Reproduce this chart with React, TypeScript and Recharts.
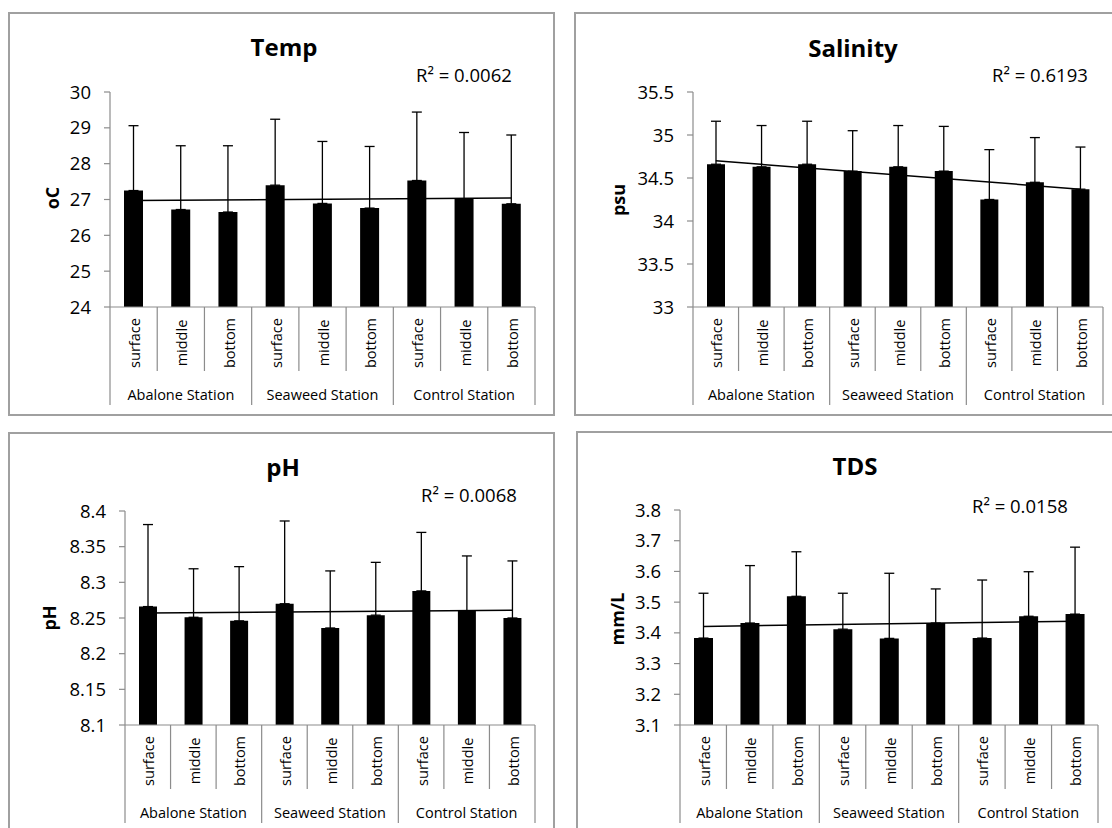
import React from 'react';
import { ComposedChart, Bar, ErrorBar, Line, XAxis, YAxis } from 'recharts';

const stations = ['Abalone Station', 'Seaweed Station', 'Control Station'];
const depths = ['surface', 'middle', 'bottom'];

const tempMean = [27.25, 26.72, 26.65, 27.4, 26.89, 26.76, 27.53, 27.02, 26.88];
const tempSd = [1.81, 1.78, 1.85, 1.84, 1.73, 1.72, 1.91, 1.85, 1.92];
const tempTrend = [26.97, 27.04];
const tempTicks = [24, 25, 26, 27, 28, 29, 30];

const salMean = [34.66, 34.63, 34.66, 34.58, 34.63, 34.58, 34.25, 34.45, 34.37];
const salSd = [0.5, 0.48, 0.5, 0.47, 0.48, 0.52, 0.58, 0.52, 0.49];
const salTrend = [34.7, 34.37];
const salTicks = [33, 33.5, 34, 34.5, 35, 35.5];

const phMean = [8.266, 8.251, 8.246, 8.27, 8.236, 8.254, 8.288, 8.26, 8.25];
const phSd = [0.115, 0.068, 0.076, 0.116, 0.08, 0.074, 0.082, 0.077, 0.08];
const phTrend = [8.257, 8.261];
const phTicks = [8.1, 8.15, 8.2, 8.25, 8.3, 8.35, 8.4];

const tdsMean = [3.383, 3.432, 3.519, 3.412, 3.382, 3.432, 3.383, 3.454, 3.461];
const tdsSd = [0.146, 0.187, 0.145, 0.117, 0.212, 0.111, 0.189, 0.145, 0.218];
const tdsTrend = [3.421, 3.438];
const tdsTicks = [3.1, 3.2, 3.3, 3.4, 3.5, 3.6, 3.7, 3.8];

const FONT = "'Open Sans', sans-serif";
const AXIS = '#8c8c8c';

function buildRows(mean: number[], sd: number[], trend: number[]) {
  const rows: any[] = [];
  stations.forEach((s, si) => {
    depths.forEach((d, di) => {
      const i = si * 3 + di;
      rows.push({
        cat: `${s}|${d}`,
        mean: mean[i],
        err: [0, sd[i]],
        trend: i === 0 ? trend[0] : i === 8 ? trend[1] : null,
      });
    });
  });
  return rows;
}

const fmt = (v: number) => String(Number(v.toFixed(2)));

type Cfg = {
  L: number; T: number; W: number; H: number;
  px0: number; px1: number; py0: number; py1: number;
  mean: number[]; sd: number[]; trend: number[]; ticks: number[];
  barSize: number;
};

function Panel({ cfg }: { cfg: Cfg }) {
  const { L, T, W, H, px0, px1, py0, py1 } = cfg;
  const yW = 60;
  const xH = 100;
  const cw = Math.min(W, 1112 - L);
  const ch = Math.min(H, 828 - T);
  const margin = {
    left: px0 - L - yW,
    top: py0 - T,
    right: L + cw - px1,
    bottom: T + ch - py1 - xH,
  };
  const bw = (px1 - px0) / 9;
  const axisY = py1 - T;
  const rows = buildRows(cfg.mean, cfg.sd, cfg.trend);
  const ticks = cfg.ticks;

  const renderTick = (props: any) => {
    const { x, payload } = props;
    const i = rows.findIndex((r) => r.cat === payload.value);
    const [station, depth] = String(payload.value).split('|');
    const lx = x + 1;
    const ly = axisY + 36;
    return (
      <g>
        <text
          x={lx}
          y={ly}
          transform={`rotate(-90 ${lx} ${ly})`}
          textAnchor="middle"
          dominantBaseline="central"
          fontSize={14.5}
          fontFamily={FONT}
          fill="#000"
        >
          {depth}
        </text>
        <line x1={x - bw / 2} x2={x - bw / 2} y1={axisY} y2={axisY + (i % 3 === 0 ? 98 : 64)} stroke={AXIS} strokeWidth={1.2} />
        {i === 8 && (
          <line x1={x + bw / 2} x2={x + bw / 2} y1={axisY} y2={axisY + 98} stroke={AXIS} strokeWidth={1.2} />
        )}
        {i % 3 === 1 && (
          <text
            x={x}
            y={axisY + 87}
            textAnchor="middle"
            dominantBaseline="central"
            fontSize={14.5}
            fontFamily={FONT}
            fill="#000"
          >
            {station}
          </text>
        )}
      </g>
    );
  };

  return (
    <>
      <div
        style={{
          position: 'absolute', left: L, top: T, width: W, height: H,
          border: '2px solid #a0a0a0', boxSizing: 'border-box', background: '#fff',
        }}
      />
      <div style={{ position: 'absolute', left: L, top: T }}>
        <ComposedChart width={cw} height={ch} data={rows} margin={margin}>
          <XAxis
            dataKey="cat"
            type="category"
            interval={0}
            tickLine={false}
            tickSize={0}
            tickMargin={0}
            height={xH}
            axisLine={{ stroke: AXIS, strokeWidth: 1.2 }}
            tick={renderTick}
          />
          <YAxis
            type="number"
            domain={[ticks[0], ticks[ticks.length - 1]]}
            ticks={ticks}
            interval={0}
            allowDataOverflow
            width={yW}
            tickSize={6}
            tickMargin={13}
            tickFormatter={fmt}
            axisLine={{ stroke: AXIS, strokeWidth: 1.2 }}
            tickLine={{ stroke: AXIS, strokeWidth: 1.2 }}
            tick={{ fill: '#000', fontSize: 18.5, fontFamily: FONT }}
          />
          <Bar dataKey="mean" fill="#000" barSize={cfg.barSize} isAnimationActive={false}>
            <ErrorBar dataKey="err" direction="y" width={5} stroke="#000" strokeWidth={1.3} isAnimationActive={false} />
          </Bar>
          <Line
            dataKey="trend"
            stroke="#000"
            strokeWidth={1.5}
            dot={false}
            activeDot={false}
            connectNulls
            isAnimationActive={false}
          />
        </ComposedChart>
      </div>
    </>
  );
}

const panels: Cfg[] = [
  { L: 8, T: 12, W: 547, H: 404, px0: 110, px1: 535, py0: 92, py1: 307, mean: tempMean, sd: tempSd, trend: tempTrend, ticks: tempTicks, barSize: 19 },
  { L: 574, T: 12, W: 560, H: 404, px0: 693, px1: 1103, py0: 92, py1: 307, mean: salMean, sd: salSd, trend: salTrend, ticks: salTicks, barSize: 18 },
  { L: 8, T: 432, W: 547, H: 420, px0: 125, px1: 535, py0: 511, py1: 725, mean: phMean, sd: phSd, trend: phTrend, ticks: phTicks, barSize: 18 },
  { L: 576, T: 431, W: 560, H: 420, px0: 680, px1: 1098, py0: 510, py1: 725, mean: tdsMean, sd: tdsSd, trend: tdsTrend, ticks: tdsTicks, barSize: 19 },
];

const titles = [
  { text: 'Temp', x: 284, y: 56 },
  { text: 'Salinity', x: 853, y: 57 },
  { text: 'pH', x: 283, y: 476 },
  { text: 'TDS', x: 855, y: 475 },
];
const r2Labels = [
  { text: 'R² = 0.0062', x: 416, y: 82 },
  { text: 'R² = 0.6193', x: 992, y: 82 },
  { text: 'R² = 0.0068', x: 421, y: 502 },
  { text: 'R² = 0.0158', x: 972, y: 513 },
];
const yLabels = [
  { text: 'oC', x: 52, y: 198 },
  { text: 'psu', x: 618, y: 200 },
  { text: 'pH', x: 49, y: 618 },
  { text: 'mm/L', x: 617, y: 619 },
];

export default function App() {
  return (
    <div
      style={{
        position: 'absolute', left: 0, top: 0, width: 1112, height: 828,
        overflow: 'hidden', background: '#fff', fontFamily: FONT,
      }}
    >
      {panels.map((p, i) => (
        <Panel key={i} cfg={p} />
      ))}
      <svg width={1112} height={828} style={{ position: 'absolute', left: 0, top: 0, pointerEvents: 'none' }}>
        {titles.map((t, i) => (
          <text key={'t' + i} x={t.x} y={t.y} textAnchor="middle" fontSize={24} fontWeight="bold" fontFamily={FONT} fill="#000">
            {t.text}
          </text>
        ))}
        {r2Labels.map((t, i) => (
          <text key={'r' + i} x={t.x} y={t.y} textAnchor="start" fontSize={18.5} fontFamily={FONT} fill="#000">
            {t.text}
          </text>
        ))}
        {yLabels.map((t, i) => (
          <text
            key={'y' + i}
            x={t.x}
            y={t.y}
            transform={`rotate(-90 ${t.x} ${t.y})`}
            textAnchor="middle"
            dominantBaseline="central"
            fontSize={18}
            fontWeight="bold"
            fontFamily={FONT}
            fill="#000"
          >
            {t.text}
          </text>
        ))}
      </svg>
    </div>
  );
}
